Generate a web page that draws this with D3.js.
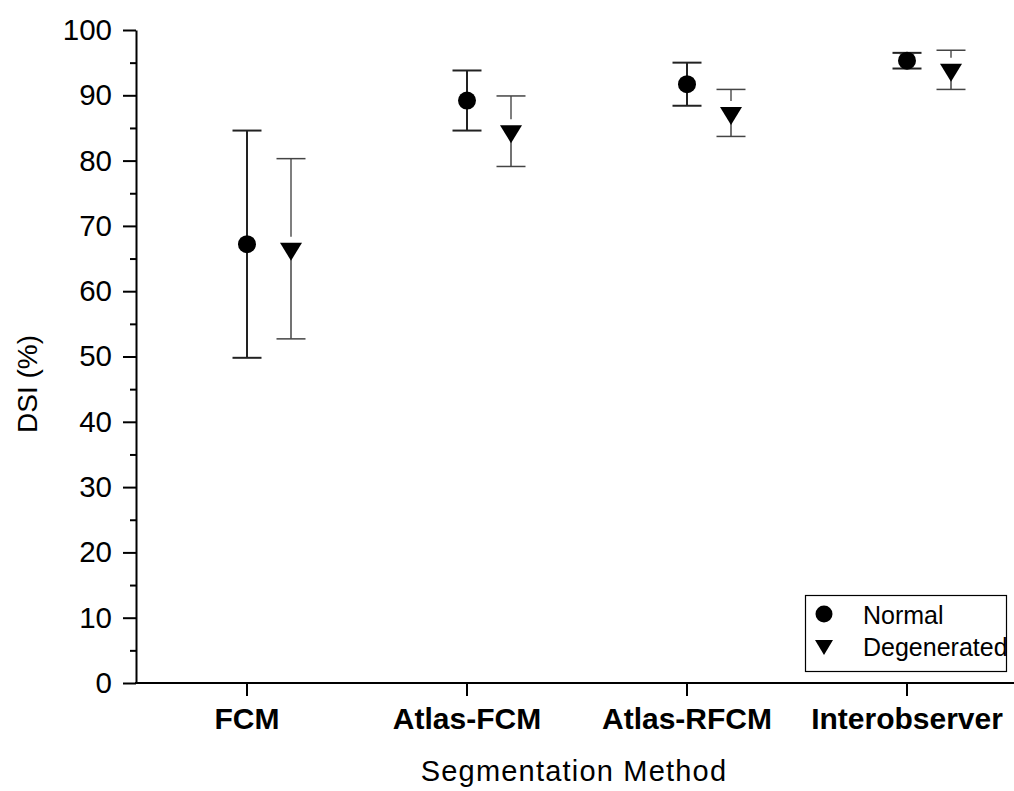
<!DOCTYPE html>
<html>
<head>
<meta charset="utf-8">
<script src="https://cdn.jsdelivr.net/npm/d3@7"></script>
<style>
  body { margin: 0; background: #fff; }
  svg { display: block; font-family: "Liberation Sans", Arial, sans-serif; }
</style>
</head>
<body>
<div id="chart"></div>
<script>
    // values (mean +/- sd of DSI in %)
    var categories = ["FCM", "Atlas-FCM", "Atlas-RFCM", "Interobserver"];
    var seriesNames = ["Normal", "Degenerated"];
    var normalMean = [67.2, 89.2, 91.7, 95.3];
    var normalSD   = [17.4, 4.6, 3.3, 1.2];
    var degenMean  = [66.5, 84.5, 87.3, 93.9];
    var degenSD    = [13.8, 5.4, 3.6, 3.0];
    var yTicks = [0, 10, 20, 30, 40, 50, 60, 70, 80, 90, 100];
    var yMinor = [5, 15, 25, 35, 45, 55, 65, 75, 85, 95];

    var W = 1014, H = 791;
    var plotLeft = 136, plotBottom = 683, plotTop = 30;

    var svg = d3.select("#chart").append("svg")
                .attr("width", W)
                .attr("height", H);

    var y = d3.scaleLinear().domain([0, 100]).range([plotBottom, plotTop]);
    var x = d3.scaleBand().domain(categories).range([137, 1017]);
    var offset = d3.scaleOrdinal().domain(seriesNames).range([0, 44]);

    // y axis
    var yAxis = svg.append("g")
        .attr("transform", "translate(" + plotLeft + ",0)")
        .call(d3.axisLeft(y).tickValues(yTicks).tickSize(13).tickPadding(11).tickSizeOuter(0));
    yAxis.select(".domain").attr("stroke-width", 2);
    yAxis.selectAll(".tick line").attr("stroke-width", 2);
    yAxis.selectAll(".tick text")
        .attr("font-size", 29.5)
        .attr("font-family", "Liberation Sans, Arial, sans-serif")
        .attr("fill", "#000");
    svg.append("g")
        .attr("transform", "translate(" + plotLeft + ",0)")
        .call(d3.axisLeft(y).tickValues(yMinor).tickSize(6).tickFormat(""))
        .call(function(g){
            g.select(".domain").remove();
            g.selectAll(".tick line").attr("stroke-width", 2);
        });

    // x axis
    var xAxis = svg.append("g")
        .attr("transform", "translate(0," + plotBottom + ")")
        .call(d3.axisBottom(x).tickSize(13).tickSizeOuter(0));
    xAxis.select(".domain").remove();
    xAxis.append("line")
        .attr("x1", plotLeft - 1).attr("x2", W)
        .attr("stroke", "#000").attr("stroke-width", 2);
    xAxis.selectAll(".tick line").attr("stroke-width", 2);
    xAxis.selectAll(".tick text")
        .attr("y", 46)
        .attr("dy", 0)
        .attr("font-size", 30)
        .attr("font-weight", "bold")
        .attr("font-family", "Liberation Sans, Arial, sans-serif")
        .attr("fill", "#000");

    // axis titles
    svg.append("text")
        .attr("x", 574).attr("y", 781)
        .attr("text-anchor", "middle")
        .attr("font-size", 29)
        .attr("letter-spacing", 1.2)
        .text("Segmentation Method");
    svg.append("text")
        .attr("transform", "translate(37,384) rotate(-90)")
        .attr("text-anchor", "middle")
        .attr("font-size", 28)
        .text("DSI (%)");

    function rows(name, means, sds){
        return categories.map(function(c, i){
            return {cat: c, series: name, mean: means[i], sd: sds[i]};
        });
    }
    var normal = rows("Normal", normalMean, normalSD);
    var degen = rows("Degenerated", degenMean, degenSD);

    function cx(d){ return x(d.cat) + x.bandwidth() / 2 + offset(d.series); }

    var triangle = "M-11,-6L11,-6L0,12Z";
    var capW = 14.5;

    // Normal: thick dark error bars + circles
    var gN = svg.append("g").selectAll("g").data(normal).enter().append("g");
    gN.append("line")
        .attr("x1", cx).attr("x2", cx)
        .attr("y1", function(d){ return y(d.mean + d.sd); })
        .attr("y2", function(d){ return y(d.mean - d.sd); })
        .attr("stroke", "#222").attr("stroke-width", 2);
    gN.selectAll(".cap")
        .data(function(d){ return [d.mean + d.sd, d.mean - d.sd].map(function(v){ return {d: d, v: v}; }); })
        .enter().append("line")
        .attr("x1", function(p){ return cx(p.d) - capW; })
        .attr("x2", function(p){ return cx(p.d) + capW; })
        .attr("y1", function(p){ return y(p.v); })
        .attr("y2", function(p){ return y(p.v); })
        .attr("stroke", "#222").attr("stroke-width", 2);
    gN.append("circle")
        .attr("cx", cx)
        .attr("cy", function(d){ return y(d.mean); })
        .attr("r", 9)
        .attr("fill", "#000");

    // Degenerated: thin grey error bars + down triangles
    var gD = svg.append("g").selectAll("g").data(degen).enter().append("g");
    gD.append("line")
        .attr("x1", cx).attr("x2", cx)
        .attr("y1", function(d){ return y(d.mean + d.sd); })
        .attr("y2", function(d){ return y(d.mean) - 12; })
        .attr("stroke", "#555").attr("stroke-width", 1.5);
    gD.append("line")
        .attr("x1", cx).attr("x2", cx)
        .attr("y1", function(d){ return y(d.mean); })
        .attr("y2", function(d){ return y(d.mean - d.sd); })
        .attr("stroke", "#444").attr("stroke-width", 1.5);
    gD.selectAll(".cap")
        .data(function(d){ return [d.mean + d.sd, d.mean - d.sd].map(function(v){ return {d: d, v: v}; }); })
        .enter().append("line")
        .attr("x1", function(p){ return cx(p.d) - capW; })
        .attr("x2", function(p){ return cx(p.d) + capW; })
        .attr("y1", function(p){ return y(p.v); })
        .attr("y2", function(p){ return y(p.v); })
        .attr("stroke", "#444").attr("stroke-width", 1.5);
    gD.append("path")
        .attr("d", triangle)
        .attr("transform", function(d){ return "translate(" + cx(d) + "," + y(d.mean) + ")"; })
        .attr("fill", "#000");

    // legend
    var lg = svg.append("g").attr("transform", "translate(805,595)");
    lg.append("rect")
        .attr("x", 0.5).attr("y", 0.5)
        .attr("width", 201).attr("height", 76)
        .attr("fill", "none").attr("stroke", "#000").attr("stroke-width", 1.2);
    var items = lg.selectAll(".item").data(seriesNames).enter().append("g")
        .attr("transform", function(d, i){ return "translate(19," + (19 + i * 32) + ")"; });
    items.each(function(d){
        var g = d3.select(this);
        if (d === "Normal") {
            g.append("circle").attr("r", 8.5).attr("fill", "#000");
        } else {
            g.append("path").attr("d", "M-9,-6L9,-6L0,9Z").attr("fill", "#000");
        }
    });
    items.append("text")
        .attr("x", 39).attr("y", 10)
        .attr("font-size", 25)
        .text(function(d){ return d; });
</script>
</body>
</html>
